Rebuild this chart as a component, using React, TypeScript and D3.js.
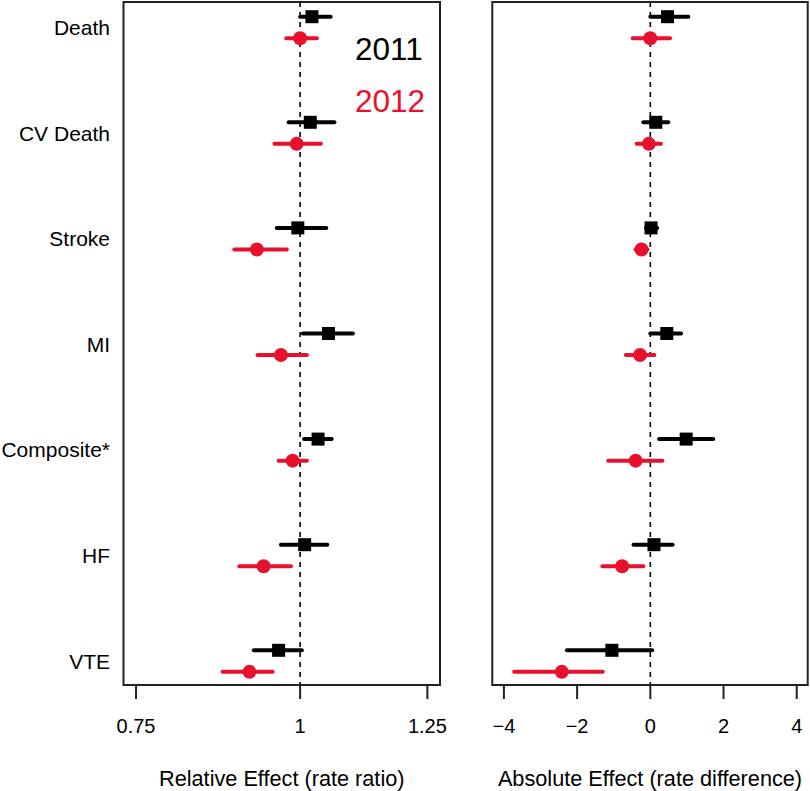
import React from "react";
import * as d3 from "d3";

const categories = ["Death", "CV Death", "Stroke", "MI", "Composite*", "HF", "VTE"];

// Relative effect (rate ratio): estimate, lower, upper
const rel2011 = [1.021, 1.018, 0.996, 1.051, 1.032, 1.008, 0.963];
const rel2011Lo = [1.0, 0.98, 0.96, 1.005, 1.007, 0.967, 0.922];
const rel2011Hi = [1.055, 1.062, 1.047, 1.097, 1.057, 1.049, 1.003];
const rel2012 = [1.0, 0.994, 0.927, 0.967, 0.987, 0.938, 0.915];
const rel2012Lo = [0.976, 0.956, 0.891, 0.928, 0.963, 0.899, 0.873];
const rel2012Hi = [1.03, 1.037, 0.977, 1.012, 1.012, 0.984, 0.953];

// Absolute effect (rate difference)
const abs2011 = [0.47, 0.15, 0.02, 0.45, 0.98, 0.1, -1.05];
const abs2011Lo = [0.0, -0.19, -0.12, 0.0, 0.24, -0.46, -2.28];
const abs2011Hi = [1.04, 0.49, 0.19, 0.84, 1.72, 0.61, 0.05];
const abs2012 = [0.0, -0.04, -0.24, -0.28, -0.4, -0.77, -2.42];
const abs2012Lo = [-0.48, -0.37, -0.4, -0.67, -1.15, -1.31, -3.72];
const abs2012Hi = [0.54, 0.29, -0.08, 0.11, 0.33, -0.19, -1.3];

const relTicks = [0.75, 1, 1.25];
const relTickLabels = ["0.75", "1", "1.25"];
const absTicks = [-4, -2, 0, 2, 4];
const absTickLabels = ["\u22124", "\u22122", "0", "2", "4"];

const years = ["2011", "2012"];
const RED = "#e8112d";
const FONT = "'Liberation Sans', Arial, Helvetica, sans-serif";

const boxTop = 2;
const boxBottom = 685;
const rowOffset = 0.204;

const yScale = d3.scaleLinear().domain([0, 6]).range([16.7, 650.3]);

const relX = d3.scaleLog().domain([0.7337, 1.278]).range([123.5, 440]);
const absX = d3.scaleLinear().domain([-4.317, 4.3]).range([492.3, 807.7]);

type Scale = (v: number) => number;

function Series({ x, est, lo, hi, offset, color, shape }: {
  x: Scale; est: number[]; lo: number[]; hi: number[]; offset: number; color: string; shape: "square" | "circle";
}) {
  return (
    <g>
      {est.map((v, i) => {
        const y = yScale(i + offset);
        return (
          <g key={i}>
            <line x1={x(lo[i])} x2={x(hi[i])} y1={y} y2={y} stroke={color} strokeWidth={4} strokeLinecap="round" />
            {shape === "square" ? (
              <rect x={x(v) - 6.5} y={y - 6.5} width={13} height={13} fill={color} />
            ) : (
              <circle cx={x(v)} cy={y} r={7} fill={color} />
            )}
          </g>
        );
      })}
    </g>
  );
}

function Panel({ x, ref0, ticks, labels, title, children }: {
  x: Scale & { range: () => number[] }; ref0: number; ticks: number[]; labels: string[]; title: string; children: React.ReactNode;
}) {
  const [r0, r1] = x.range();
  return (
    <g>
      <line x1={x(ref0)} x2={x(ref0)} y1={boxTop} y2={boxBottom} stroke="#000" strokeWidth={1.6} strokeDasharray="5 5" />
      {children}
      <rect x={r0} y={boxTop} width={r1 - r0} height={boxBottom - boxTop} fill="none" stroke="#222" strokeWidth={2} />
      {ticks.map((t, i) => (
        <g key={t}>
          <line x1={x(t)} x2={x(t)} y1={boxBottom} y2={699} stroke="#222" strokeWidth={2} />
          <text x={x(t)} y={733.3} textAnchor="middle" fontSize={20} fontFamily={FONT} fill="#000">{labels[i]}</text>
        </g>
      ))}
      <text x={(r0 + r1) / 2} y={786} textAnchor="middle" fontSize={21.7} fontFamily={FONT} fill="#000">{title}</text>
    </g>
  );
}

export default function App() {
  return (
    <svg width={810} height={791} style={{ position: "absolute", left: 0, top: 0, background: "#fff" }}>
      <rect x={0} y={0} width={810} height={791} fill="#fff" />
      {categories.map((c, i) => (
        <text key={c} x={110} y={yScale(i + rowOffset / 2) + 7.5} textAnchor="end" fontSize={21} fontFamily={FONT} fill="#000">{c}</text>
      ))}
      <Panel x={relX as any} ref0={1} ticks={relTicks} labels={relTickLabels} title="Relative Effect (rate ratio)">
        <Series x={relX} est={rel2011} lo={rel2011Lo} hi={rel2011Hi} offset={0} color="#000" shape="square" />
        <Series x={relX} est={rel2012} lo={rel2012Lo} hi={rel2012Hi} offset={rowOffset} color={RED} shape="circle" />
      </Panel>
      <Panel x={absX as any} ref0={0} ticks={absTicks} labels={absTickLabels} title="Absolute Effect (rate difference)">
        <Series x={absX} est={abs2011} lo={abs2011Lo} hi={abs2011Hi} offset={0} color="#000" shape="square" />
        <Series x={absX} est={abs2012} lo={abs2012Lo} hi={abs2012Hi} offset={rowOffset} color={RED} shape="circle" />
      </Panel>
      <text x={355} y={60} fontSize={31.5} fontFamily={FONT} fill="#000">{years[0]}</text>
      <text x={355} y={111.7} fontSize={31.5} fontFamily={FONT} fill={RED}>{years[1]}</text>
    </svg>
  );
}
